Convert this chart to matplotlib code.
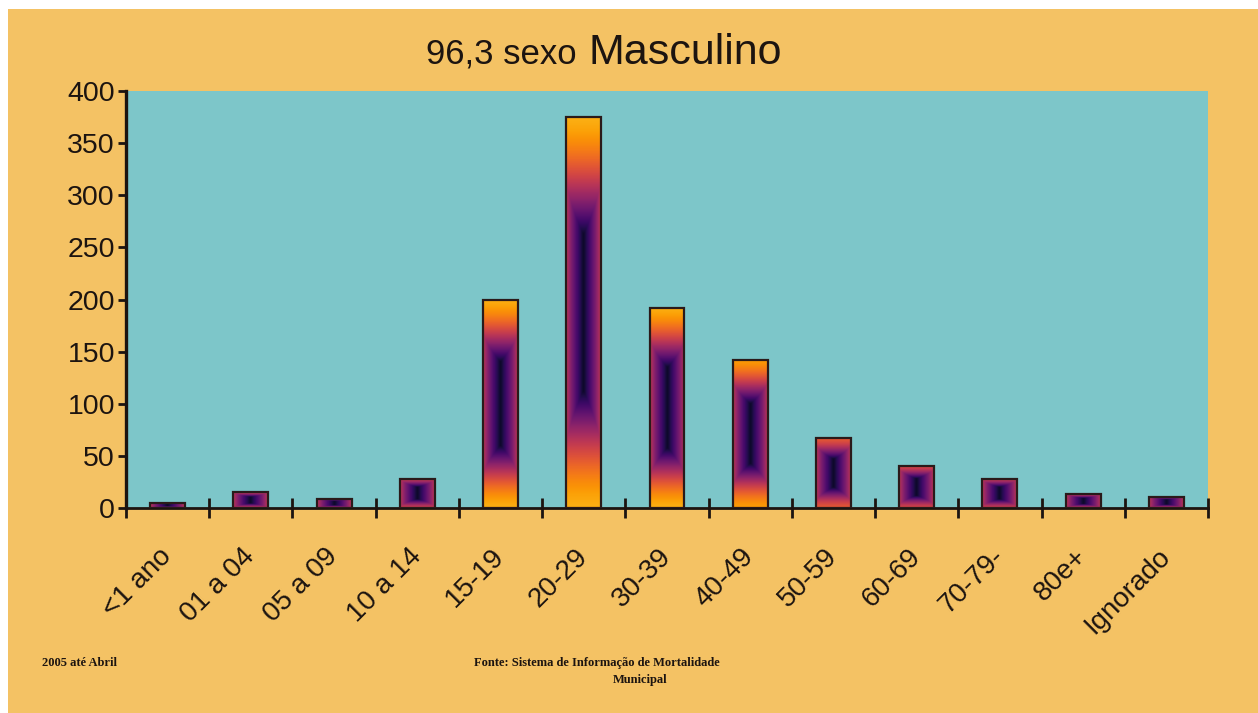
import numpy as np
import matplotlib
matplotlib.use("Agg")
import matplotlib.pyplot as plt
from matplotlib.patches import Rectangle

# Data: deaths by age group (male)
categories = ["<1 ano", "01 a 04", "05 a 09", "10 a 14", "15-19", "20-29",
              "30-39", "40-49", "50-59", "60-69", "70-79-", "80e+", "Ignorado"]
values = [5, 15, 9, 28, 200, 375, 192, 142, 67, 40, 28, 13, 11]
yticks = [0, 50, 100, 150, 200, 250, 300, 350, 400]

W, H = 1258, 713
ORANGE = "#F4C264"
TEAL = "#7DC6C9"
INK = "#1c1410"

plt.rcParams["font.family"] = ["Liberation Sans", "DejaVu Sans"]

fig = plt.figure(figsize=(W / 100, H / 100), dpi=100, facecolor="white")
# orange panel behind everything (thin white margin on top and left)
fig.patches.append(Rectangle((8 / W, 0), 1 - 8 / W, 1 - 9 / H,
                             transform=fig.transFigure, facecolor=ORANGE,
                             edgecolor="none", zorder=-10))

ax = fig.add_axes([126 / W, 205 / H, (1208 - 126) / W, 417 / H])
ax.set_facecolor(TEAL)

n = len(categories)
x = np.arange(n)
bar_w = 0.42
cmap = plt.get_cmap("inferno")

bars = ax.bar(x, values, width=bar_w, facecolor="none", edgecolor="#2a1a1a",
              linewidth=1.6, zorder=3)

# rectangular gradient fill for each bar: warm at the ends, dark in the core
ny, nx = 400, 60
for rect in bars:
    x0, y0 = rect.get_x(), rect.get_y()
    w, h = rect.get_width(), rect.get_height()
    ty = 1 - np.abs(np.linspace(-1, 1, ny))[:, None]
    tx = 1 - np.abs(np.linspace(-1, 1, nx))[None, :]
    base = 0.45 * np.clip(1 - h / 160.0, 0, 1)
    sy = base + (1 - base) * np.clip((ty / 0.6) ** 1.5, 0, 1)
    sx = 0.40 + 0.60 * tx ** 0.8
    s = np.minimum(sy, sx)
    c = 0.07 + 0.75 * (1 - s)
    img = ax.imshow(c, cmap=cmap, vmin=0, vmax=1, extent=(x0, x0 + w, y0, y0 + h),
                    origin="lower", aspect="auto", interpolation="bilinear", zorder=2)
    img.set_clip_path(rect)

ax.set_xlim(-0.5, n - 0.5)
ax.set_ylim(0, 400)

for side in ["top", "right"]:
    ax.spines[side].set_visible(False)
ax.spines["left"].set_linewidth(2.4)
ax.spines["bottom"].set_linewidth(2.0)
ax.spines["left"].set_color(INK)
ax.spines["bottom"].set_color(INK)

ax.set_yticks(yticks)
ax.set_yticklabels([str(v) for v in yticks])
ax.tick_params(axis="y", direction="out", length=6, width=2, colors=INK,
               labelsize=20.5, pad=2)

# boundary ticks on x, labels at category centres
ax.set_xticks(np.arange(-0.5, n, 1.0))
ax.set_xticklabels([])
ax.tick_params(axis="x", which="major", direction="inout", length=14, width=2,
               colors=INK)
ax.set_xticks(x, minor=True)
ax.set_xticklabels(categories, minor=True, rotation=45, ha="right",
                   rotation_mode="anchor", va="center")
ax.tick_params(axis="x", which="minor", length=0, labelsize=20, pad=32,
               labelcolor=INK)

# title
ty_fig = (H - 64) / H
fig.text(577 / W, ty_fig, "96,3 sexo", ha="right", va="baseline", fontsize=25,
         color=INK)
fig.text(588 / W, ty_fig, "Masculino", ha="left", va="baseline", fontsize=31,
         color=INK)

# footer
foot = dict(family=["Liberation Serif", "DejaVu Serif"], fontweight="bold",
            fontsize=9, color=INK)
fig.text(42 / W, (H - 666) / H, "2005 até Abril", ha="left", va="baseline", **foot)
fig.text(597 / W, (H - 666) / H, "Fonte: Sistema de Informação de Mortalidade",
         ha="center", va="baseline", **foot)
fig.text(640 / W, (H - 683) / H, "Municipal", ha="center", va="baseline", **foot)

fig.savefig("out.png", dpi=100, facecolor=fig.get_facecolor())
